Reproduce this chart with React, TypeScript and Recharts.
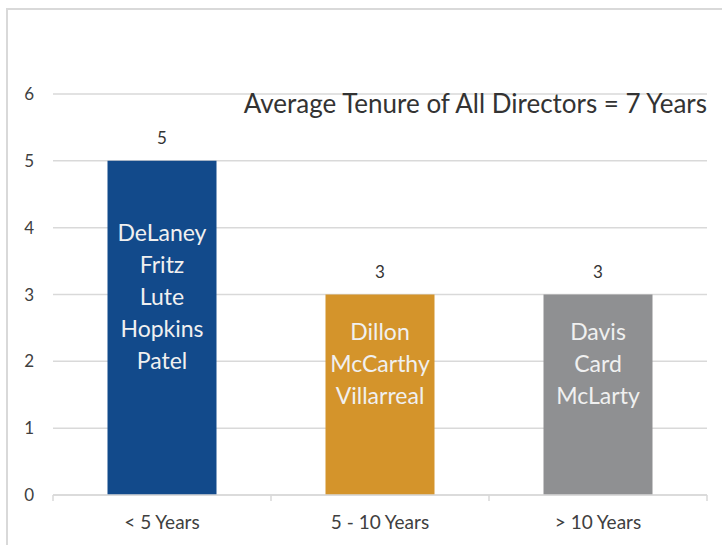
import React from "react";
import { BarChart, Bar, XAxis, YAxis, CartesianGrid, Cell, LabelList, ReferenceLine } from "recharts";

const categories = ["< 5 Years", "5 - 10 Years", "> 10 Years"];
const counts = [5, 3, 3];
const directorNames = [
  ["DeLaney", "Fritz", "Lute", "Hopkins", "Patel"],
  ["Dillon", "McCarthy", "Villarreal"],
  ["Davis", "Card", "McLarty"],
];
const barColors = ["#124a8b", "#d4942b", "#8f9092"];
const yTicks = [0, 1, 2, 3, 4, 5, 6];
const annotation = "Average Tenure of All Directors = 7 Years";
const averageLabelLevel = 5.85;

const data = categories.map((c, i) => ({ category: c, count: counts[i], names: directorNames[i] }));

const FONT = "Lato, 'Open Sans', sans-serif";
const TICK_MARGIN = 21;

const NameLabel = (props: any) => {
  const { x, y, width, height, value } = props;
  const names: string[] = value || [];
  const lh = 32;
  const cx = x + width / 2;
  const center = y + height / 2 - 32;
  const startY = center - ((names.length - 1) * lh) / 2;
  return (
    <text x={cx} textAnchor="middle" fill="#f0f0f0" fontSize={23} fontFamily={FONT}>
      {names.map((n, i) => (
        <tspan key={i} x={cx} y={startY + i * lh} dominantBaseline="central">
          {n}
        </tspan>
      ))}
    </text>
  );
};

const CategoryTick = (props: any) => {
  const { x, y, payload, visibleTicksCount } = props;
  const half = payload?.offset ?? 0;
  const axisY = y - TICK_MARGIN;
  const isLast = payload?.index === (visibleTicksCount ?? categories.length) - 1;
  return (
    <g>
      <line x1={x - half} x2={x - half} y1={axisY} y2={axisY + 6} stroke="#d9d9d9" strokeWidth={1.5} />
      {isLast && <line x1={x + half} x2={x + half} y1={axisY} y2={axisY + 6} stroke="#d9d9d9" strokeWidth={1.5} />}
      <text x={x} y={y} dy="0.71em" textAnchor="middle" fill="#404040" fontSize={19} fontFamily={FONT}>
        {payload?.value}
      </text>
    </g>
  );
};

export default function App() {
  return (
    <div style={{ position: "absolute", left: 0, top: 0, width: 722, height: 545, background: "#fff", overflow: "hidden" }}>
      <div
        style={{
          position: "absolute",
          left: 6,
          top: 8,
          width: 740,
          height: 560,
          borderLeft: "2px solid #d9d9d9",
          borderTop: "2px solid #d9d9d9",
        }}
      />
      <div style={{ position: "absolute", left: 0, top: 0 }}>
        <BarChart
          width={722}
          height={545}
          data={data}
          margin={{ top: 94, right: 15, bottom: 0, left: 0 }}
          barCategoryGap="25%"
        >
          <CartesianGrid vertical={false} stroke="#d9d9d9" strokeWidth={1.5} />
          <XAxis
            dataKey="category"
            axisLine={{ stroke: "#d9d9d9", strokeWidth: 1.5 }}
            tickLine={false}
            tickSize={0}
            tickMargin={TICK_MARGIN}
            height={50}
            interval={0}
            tick={<CategoryTick />}
          />
          <YAxis
            domain={[0, 6]}
            ticks={yTicks}
            width={53}
            axisLine={false}
            tickLine={false}
            tickSize={8}
            tickMargin={11}
            tick={{ fill: "#404040", fontSize: 17, fontFamily: FONT }}
          />
          <ReferenceLine
            y={averageLabelLevel}
            stroke="none"
            strokeOpacity={0}
            label={{ value: annotation, position: "insideRight", offset: 0, fill: "#333333", fontSize: 26, fontFamily: FONT }}
          />
          <Bar dataKey="count" isAnimationActive={false}>
            {data.map((d, i) => (
              <Cell key={i} fill={barColors[i]} />
            ))}
            <LabelList dataKey="count" position="top" offset={17} fill="#333333" fontSize={17} fontFamily={FONT} />
            <LabelList dataKey="names" content={NameLabel} />
          </Bar>
        </BarChart>
      </div>
    </div>
  );
}
